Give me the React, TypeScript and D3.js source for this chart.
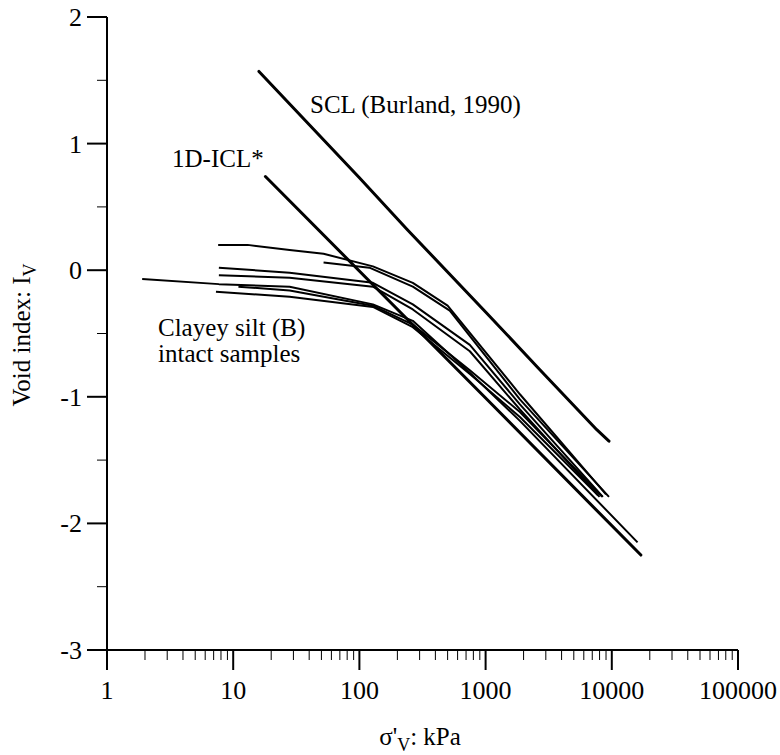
import React from "react";
import * as d3 from "d3";

// Axis ticks
const xMajorTicks = [1, 10, 100, 1000, 10000, 100000];
const xTickLabels = ["1", "10", "100", "1000", "10000", "100000"];
const yMajorTicks = [-3, -2, -1, 0, 1, 2];
const yTickLabels = ["-3", "-2", "-1", "0", "1", "2"];
const yMinorTicks = [-2.5, -1.5, -0.5, 0.5, 1.5];

// Sedimentation compression line (Burland, 1990): [σ'v kPa, Iv]
const sclLine: [number, number][] = [
  [16, 1.57], [100, 0.73], [240, 0.32], [1000, -0.33], [2600, -0.77], [7600, -1.26], [9500, -1.35],
];

// Intrinsic compression line
const iclLine: [number, number][] = [
  [18, 0.74], [1000, -1.01], [17000, -2.25],
];

// Clayey silt (B), intact samples
const sampleA: [number, number][] = [
  [7.6, 0.2], [13, 0.2], [28, 0.16], [52, 0.13], [128, 0.03], [265, -0.1], [500, -0.28], [1870, -0.98], [9000, -1.77],
];
const sampleB: [number, number][] = [
  [52, 0.06], [120, 0.02], [265, -0.13], [520, -0.32], [1870, -1.02], [9500, -1.79],
];
const sampleC: [number, number][] = [
  [7.7, 0.02], [28, -0.02], [128, -0.1], [265, -0.27], [750, -0.59], [1870, -1.06], [8500, -1.79],
];
const sampleD: [number, number][] = [
  [7.7, -0.04], [28, -0.06], [128, -0.13], [265, -0.31], [750, -0.64], [1870, -1.1], [8000, -1.79],
];
const sampleE: [number, number][] = [
  [1.9, -0.07], [7.7, -0.11], [28, -0.13], [128, -0.27], [265, -0.4], [750, -0.81], [1870, -1.19], [16000, -2.15],
];
const sampleF: [number, number][] = [
  [11, -0.13], [28, -0.16], [128, -0.28], [265, -0.43], [750, -0.79], [1870, -1.12], [8400, -1.79],
];
const sampleG: [number, number][] = [
  [7.3, -0.17], [28, -0.21], [128, -0.29], [265, -0.45], [750, -0.82], [1870, -1.16], [7800, -1.78],
];
const samples = [sampleA, sampleB, sampleC, sampleD, sampleE, sampleF, sampleG];

const FONT = "'Liberation Serif', 'Times New Roman', serif";

export default function App() {
  const x = d3.scaleLog().domain([1, 100000]).range([107, 738]);
  const y = d3.scaleLinear().domain([-3, 2]).range([650, 17]);
  const line = d3
    .line<[number, number]>()
    .x((d) => x(d[0]))
    .y((d) => y(d[1]));

  const minorX: number[] = [];
  for (let p = 0; p < 5; p++) {
    for (let k = 2; k <= 9; k++) minorX.push(k * Math.pow(10, p));
  }

  const y0 = y(-3);
  const x0 = x(1);

  return (
    <svg width={780} height={755} style={{ display: "block", position: "absolute", left: 0, top: 0 }} fontFamily={FONT}>
      <rect width={780} height={755} fill="#fff" />
      {/* axes */}
      <line x1={x0} x2={x0} y1={y(2)} y2={y0 + 20} stroke="#000" strokeWidth={2} />
      <line x1={x0} x2={x(100000)} y1={y0} y2={y0} stroke="#000" strokeWidth={2} />
      {xMajorTicks.map((t, i) => (
        <g key={"xt" + t}>
          <line x1={x(t)} x2={x(t)} y1={y0} y2={y0 + 20} stroke="#000" strokeWidth={2} />
          <text x={x(t)} y={y0 + 49} textAnchor="middle" fontSize={26}>
            {xTickLabels[i]}
          </text>
        </g>
      ))}
      {minorX.map((t) => (
        <line key={"xm" + t} x1={x(t)} x2={x(t)} y1={y0} y2={y0 + 10} stroke="#000" strokeWidth={1} />
      ))}
      {yMajorTicks.map((t, i) => (
        <g key={"yt" + t}>
          <line x1={x0 - 20} x2={x0} y1={y(t)} y2={y(t)} stroke="#000" strokeWidth={2} />
          <text x={x0 - 25} y={y(t) + 9} textAnchor="end" fontSize={26}>
            {yTickLabels[i]}
          </text>
        </g>
      ))}
      {yMinorTicks.map((t) => (
        <line key={"ym" + t} x1={x0 - 10} x2={x0} y1={y(t)} y2={y(t)} stroke="#000" strokeWidth={1} />
      ))}

      {/* axis titles */}
      <text x={420} y={745} textAnchor="middle" fontSize={25}>
        σ'<tspan fontSize={18} dy={6}>V</tspan>
        <tspan dy={-6}>: kPa</tspan>
      </text>
      <text transform="translate(30,335) rotate(-90)" textAnchor="middle" fontSize={25}>
        Void index: I<tspan fontSize={18} dy={6}>V</tspan>
      </text>

      {/* curves */}
      {samples.map((s, i) => (
        <path key={"s" + i} d={line(s) || ""} fill="none" stroke="#000" strokeWidth={2} strokeLinejoin="round" />
      ))}
      <path d={line(sclLine) || ""} fill="none" stroke="#000" strokeWidth={3} strokeLinecap="round" strokeLinejoin="round" />
      <path d={line(iclLine) || ""} fill="none" stroke="#000" strokeWidth={3} strokeLinecap="round" strokeLinejoin="round" />

      {/* annotations */}
      <text x={310} y={113} fontSize={25}>SCL (Burland, 1990)</text>
      <text x={172} y={167} fontSize={25}>1D-ICL*</text>
      <text x={158} y={336} fontSize={25}>Clayey silt (B)</text>
      <text x={158} y={362} fontSize={25}>intact samples</text>
    </svg>
  );
}
